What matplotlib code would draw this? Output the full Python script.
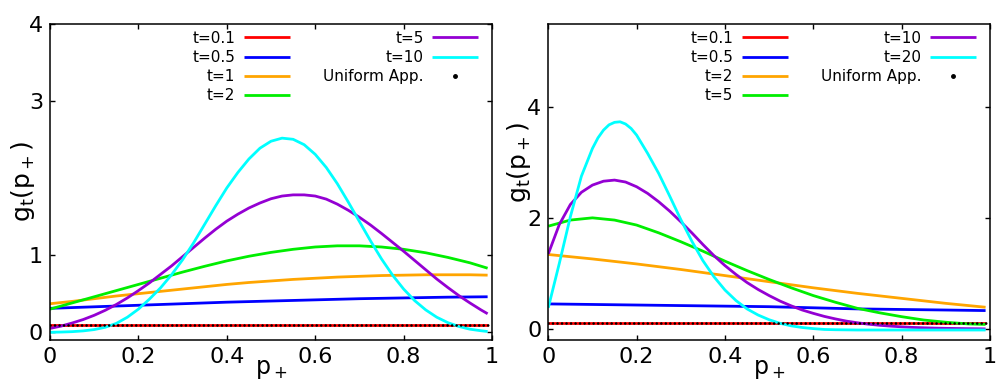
import matplotlib
matplotlib.use("Agg")
import matplotlib.pyplot as plt
from matplotlib.lines import Line2D

RED, BLUE, ORANGE, GREEN, PURPLE, CYAN = "#ff0000", "#0000ff", "#ffa500", "#00ee00", "#9400d3", "#00ffff"

# shared sampling grids
X10 = [0, 0.1, 0.2, 0.3, 0.4, 0.5, 0.6, 0.7, 0.8, 0.9, 0.99]
X05 = [0, 0.05, 0.1, 0.15, 0.2, 0.25, 0.3, 0.35, 0.4, 0.45, 0.5,
       0.55, 0.6, 0.65, 0.7, 0.75, 0.8, 0.85, 0.9, 0.95, 0.99]
X025 = [0, 0.025, 0.05, 0.075, 0.1, 0.125, 0.15, 0.175, 0.2, 0.225, 0.25,
        0.275, 0.3, 0.325, 0.35, 0.375, 0.4, 0.425, 0.45, 0.475, 0.5,
        0.525, 0.55, 0.575, 0.6, 0.625, 0.65, 0.675, 0.7, 0.725, 0.75,
        0.775, 0.8, 0.825, 0.85, 0.875, 0.9, 0.925, 0.95, 0.975, 0.99]
# finer around the sharp t=20 peak
X_PEAK = [0, 0.025, 0.05, 0.075, 0.1, 0.1125, 0.125, 0.1375, 0.15, 0.1625,
          0.175, 0.1875, 0.2, 0.225, 0.25, 0.275, 0.3, 0.325, 0.35, 0.375,
          0.4, 0.425, 0.45, 0.475, 0.5, 0.525, 0.55, 0.575, 0.6, 0.625,
          0.65, 0.7, 0.8, 0.9, 0.99]
X_ENDS = [0, 0.99]
X_UNIFORM = [0, 1]
UNIFORM_LEVEL = [0.1, 0.1]

# left panel: t = 0.1, 0.5, 1, 2, 5, 10
L_T01 = [0.1, 0.1]
L_T05 = [0.31, 0.33, 0.35, 0.37, 0.39, 0.405, 0.42, 0.435, 0.445, 0.455, 0.46]
L_T1 = [0.37, 0.40, 0.435, 0.47, 0.50, 0.53, 0.56, 0.59, 0.62, 0.645, 0.665,
        0.685, 0.70, 0.715, 0.725, 0.735, 0.74, 0.745, 0.745, 0.745, 0.74]
L_T2 = [0.30, 0.38, 0.46, 0.54, 0.62, 0.70, 0.78, 0.855, 0.925, 0.985, 1.035,
        1.075, 1.105, 1.12, 1.12, 1.105, 1.075, 1.03, 0.97, 0.90, 0.83]
L_T5 = [0.05, 0.08, 0.12, 0.165, 0.22, 0.285, 0.36, 0.445, 0.54, 0.64, 0.75,
        0.86, 0.98, 1.10, 1.22, 1.335, 1.44, 1.53, 1.61, 1.675, 1.73,
        1.765, 1.78, 1.78, 1.765, 1.725, 1.66, 1.58, 1.49, 1.39, 1.28,
        1.165, 1.05, 0.93, 0.81, 0.69, 0.58, 0.475, 0.38, 0.29, 0.24]
L_T10 = [0.0, 0.003, 0.008, 0.018, 0.035, 0.065, 0.115, 0.195, 0.30, 0.43, 0.575,
         0.745, 0.94, 1.16, 1.40, 1.64, 1.87, 2.07, 2.245, 2.385, 2.475,
         2.515, 2.50, 2.43, 2.305, 2.135, 1.925, 1.685, 1.435, 1.185, 0.95,
         0.74, 0.56, 0.41, 0.29, 0.195, 0.125, 0.075, 0.04, 0.02, 0.01]

# right panel: t = 0.1, 0.5, 2, 5, 10, 20
R_T01 = [0.1, 0.1]
R_T05 = [0.45, 0.44, 0.43, 0.42, 0.41, 0.40, 0.38, 0.36, 0.35, 0.34, 0.33]
R_T2 = [1.34, 1.26, 1.17, 1.07, 0.96, 0.85, 0.74, 0.64, 0.55, 0.46, 0.39]
R_T5 = [1.85, 1.96, 2.00, 1.96, 1.87, 1.73, 1.57, 1.40, 1.22, 1.05, 0.89,
        0.74, 0.60, 0.48, 0.37, 0.29, 0.22, 0.16, 0.12, 0.09, 0.08]
R_T10 = [1.35, 1.88, 2.24, 2.46, 2.59, 2.66, 2.68, 2.645, 2.56, 2.44, 2.29,
         2.12, 1.93, 1.73, 1.52, 1.32, 1.14, 0.98, 0.835, 0.71, 0.60,
         0.50, 0.415, 0.34, 0.28, 0.225, 0.18, 0.14, 0.11, 0.085, 0.065,
         0.05, 0.037, 0.027, 0.02, 0.014, 0.01, 0.007, 0.004, 0.002, 0.0]
R_T20 = [0.38, 1.18, 2.02, 2.75, 3.25, 3.44, 3.58, 3.675, 3.72, 3.73,
         3.69, 3.61, 3.49, 3.16, 2.80, 2.39, 1.97, 1.58, 1.23, 0.94,
         0.70, 0.51, 0.36, 0.25, 0.165, 0.10, 0.055, 0.025, 0.005, -0.01,
         -0.015, -0.02, -0.02, -0.02, -0.02]

X_TICKS = [0, 0.2, 0.4, 0.6, 0.8, 1]
X_TICKLABELS = ["0", "0.2", "0.4", "0.6", "0.8", "1"]

plt.rcParams["font.family"] = "DejaVu Sans"
plt.rcParams["mathtext.default"] = "regular"

fig = plt.figure(figsize=(10.06, 3.81), dpi=100)
ax_l = fig.add_axes([0.0497, 0.1076, 0.4394, 0.8307])
ax_r = fig.add_axes([0.5450, 0.1076, 0.4391, 0.8307])

panels = [
    (ax_l, [("t=0.1", X_ENDS, L_T01, RED), ("t=0.5", X10, L_T05, BLUE),
            ("t=1", X05, L_T1, ORANGE), ("t=2", X05, L_T2, GREEN),
            ("t=5", X025, L_T5, PURPLE), ("t=10", X025, L_T10, CYAN)],
     (-0.1, 4.0), [0, 1, 3, 4], (-0.03, 0.5)),
    (ax_r, [("t=0.1", X_ENDS, R_T01, RED), ("t=0.5", X10, R_T05, BLUE),
            ("t=2", X10, R_T2, ORANGE), ("t=5", X05, R_T5, GREEN),
            ("t=10", X025, R_T10, PURPLE), ("t=20", X_PEAK, R_T20, CYAN)],
     (-0.2, 5.5), [0, 2, 4], (-0.034, 0.56)),
]

for ax, series, ylim, yticks, label_xy in panels:
    handles = []
    for label, xs, ys, color in series:
        line, = ax.plot(xs, ys, color=color, lw=2, label=label,
                        solid_capstyle="butt", solid_joinstyle="round")
        handles.append(line)
    # uniform approximation drawn as a row of dots
    ax.plot(X_UNIFORM, UNIFORM_LEVEL, color="black", lw=1.9,
            linestyle=(0, (0.01, 1.7)), dash_capstyle="round", zorder=5)
    handles.append(Line2D([], [], color="black", marker="o", ls="none", ms=2.5,
                          label="Uniform App."))

    ax.set_xlim(0, 1)
    ax.set_ylim(*ylim)
    ax.set_xticks(X_TICKS)
    ax.set_xticklabels(X_TICKLABELS)
    ax.set_yticks(yticks)
    ax.tick_params(direction="in", top=True, right=True, length=3.5, width=1,
                   labelsize=16, pad=5)
    for sp in ax.spines.values():
        sp.set_linewidth(1.1)

    ax.set_xlabel(r"$p_+$", fontsize=17)
    ax.xaxis.set_label_coords(0.5, -0.054)
    ax.set_ylabel(r"$g_t(p_+)$", fontsize=18)
    ax.yaxis.set_label_coords(*label_xy)

    ax.legend(handles=handles, ncol=2, markerfirst=False, frameon=False,
              loc="upper right", bbox_to_anchor=(0.968, 0.977), fontsize=11,
              handlelength=3.0, handletextpad=0.55, columnspacing=2.2,
              labelspacing=0.27, borderpad=0, borderaxespad=0)

fig.savefig("out.png", dpi=100, facecolor="white")
